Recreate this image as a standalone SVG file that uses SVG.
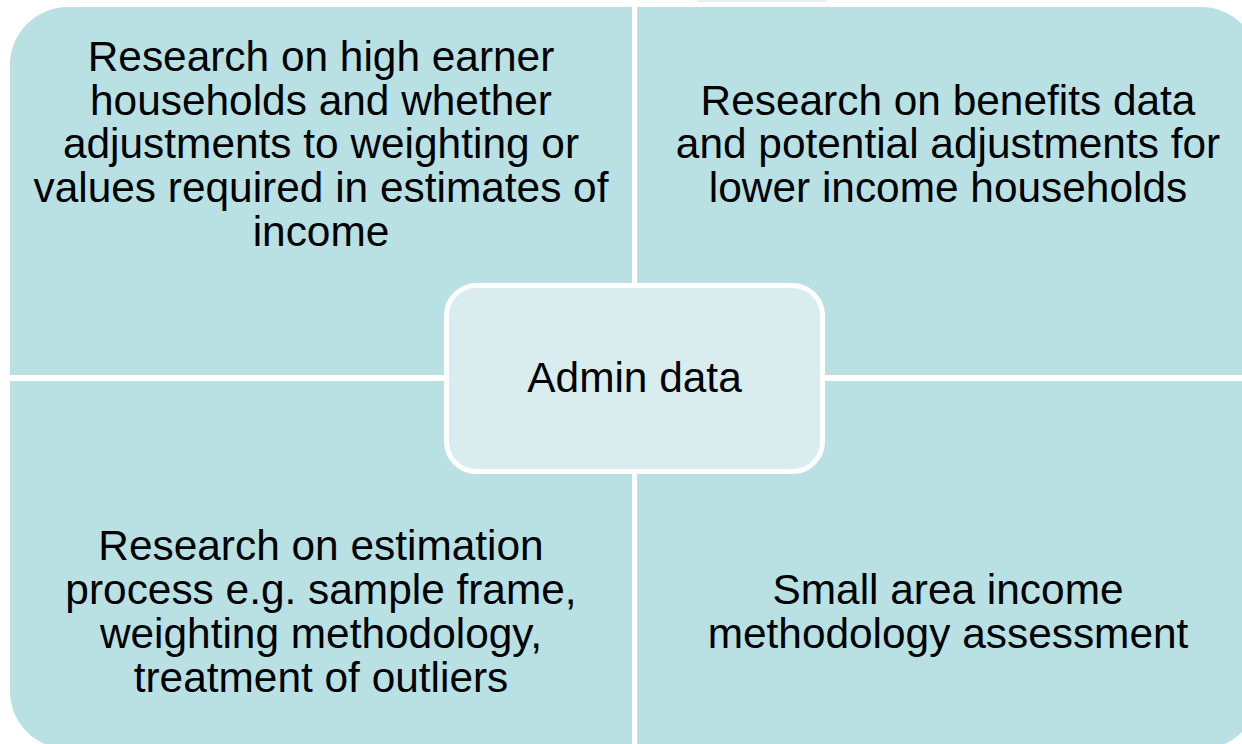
<svg xmlns="http://www.w3.org/2000/svg" width="1242" height="744" viewBox="0 0 1242 744">
  <style>
    .quad { fill: #b9e0e3; }
    .hub { fill: #daedee; stroke: #ffffff; stroke-width: 5; }
    .lbl { font-family: "Liberation Sans", Arial, sans-serif; font-size: 42.4px; fill: #000000; text-anchor: middle; }
  </style>
  <rect x="0" y="0" width="1242" height="744" fill="#ffffff"/>
  <rect x="697" y="0" width="130" height="2" fill="#e9eef0"/>

  <g id="node-high-earners">
    <path class="quad" d="M10,375 L10,65 A58,58 0 0 1 68,7 L632,7 L632,375 Z"/>
    <text class="lbl" x="321" y="70.5">Research on high earner</text>
    <text class="lbl" x="321" y="114.5">households and whether</text>
    <text class="lbl" x="321" y="158">adjustments to weighting or</text>
    <text class="lbl" x="321" y="202">values required in estimates of</text>
    <text class="lbl" x="321" y="245.5">income</text>
  </g>

  <g id="node-benefits">
    <path class="quad" d="M637,7 L1201,7 A58,58 0 0 1 1259,65 L1259,375 L637,375 Z"/>
    <text class="lbl" x="948" y="114.5">Research on benefits data</text>
    <text class="lbl" x="948" y="158">and potential adjustments for</text>
    <text class="lbl" x="948" y="202">lower income households</text>
  </g>

  <g id="node-estimation">
    <path class="quad" d="M10,381 L632,381 L632,749 L68,749 A58,58 0 0 1 10,691 Z"/>
    <text class="lbl" x="321" y="560">Research on estimation</text>
    <text class="lbl" x="321" y="604">process e.g. sample frame,</text>
    <text class="lbl" x="321" y="648">weighting methodology,</text>
    <text class="lbl" x="321" y="692">treatment of outliers</text>
  </g>

  <g id="node-small-area">
    <path class="quad" d="M637,381 L1259,381 L1259,691 A58,58 0 0 1 1201,749 L637,749 Z"/>
    <text class="lbl" x="948" y="604">Small area income</text>
    <text class="lbl" x="948" y="648">methodology assessment</text>
  </g>

  <g id="connectors"></g>

  <g id="node-admin-data">
    <rect class="hub" x="446.5" y="285.5" width="376" height="186" rx="30" ry="30"/>
    <text class="lbl" x="634.5" y="392">Admin data</text>
  </g>
</svg>
